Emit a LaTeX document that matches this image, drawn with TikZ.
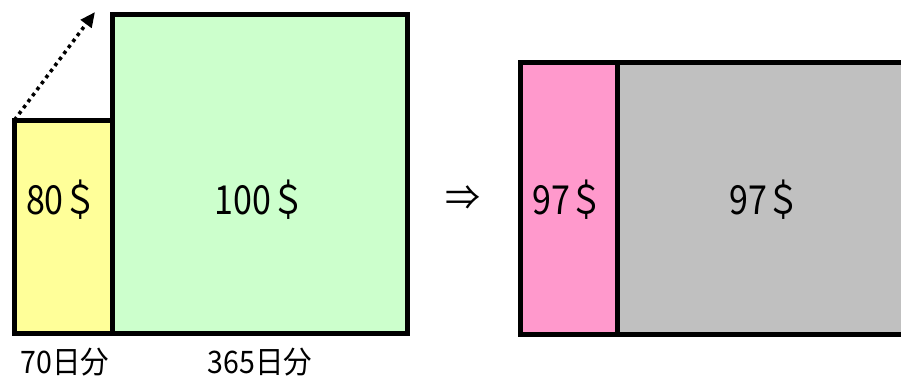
\documentclass[tikz,border=0pt]{standalone}
\usepackage{fontspec}
\setmainfont{Noto Sans CJK JP}
\usetikzlibrary{arrows.meta}
\definecolor{boxyellow}{HTML}{FFFF99}
\definecolor{boxgreen}{HTML}{CCFFCC}
\definecolor{boxpink}{HTML}{FF99CC}
\definecolor{boxgray}{HTML}{C0C0C0}
\tikzset{
  box/.style={draw=black,line width=5pt,inner sep=0pt,outer sep=0pt},
  price/.style={font=\fontsize{40}{40}\selectfont,inner sep=0pt,xscale=0.85},
  days/.style={font=\fontsize{31}{31}\selectfont,inner sep=0pt,xscale=0.92}
}
\begin{document}
\begin{tikzpicture}[x=1pt,y=-1pt]
\useasboundingbox (0,0) rectangle (901,381);
\clip (0,0) rectangle (901,381);
% before
\node[box,fill=boxyellow,minimum width=97.5pt,minimum height=213pt] (short) at (63.25,226.5) {};
\node[box,fill=boxgreen,minimum width=295pt,minimum height=318.5pt] (long) at (259.5,173.75) {};
\node[price] (shortprice) at (62,200) {80＄};
\node[price] (longprice) at (260,200) {100＄};
\node[days] (shortdays) at (65,362) {70日分};
\node[days] (longdays) at (260,362) {365日分};
\coordinate (tip) at (95,12);
\draw[line width=3.5pt,dash pattern=on 3.5pt off 4pt,-{Triangle[length=15pt,width=13pt]}] (short.north west) -- (tip);
% after
\node[font=\fontsize{35}{35}\selectfont,inner sep=0pt] (then) at (463,198) {⇒};
\node[box,fill=boxpink,minimum width=97pt,minimum height=272pt] (newshort) at (568.5,198) {};
\node[box,fill=boxgray,minimum width=300pt,minimum height=272pt,anchor=west] (newlong) at (newshort.east) {};
\node[price] (newshortprice) at (568,200) {97＄};
\node[price] (newlongprice) at (765,200) {97＄};
\end{tikzpicture}
\end{document}
